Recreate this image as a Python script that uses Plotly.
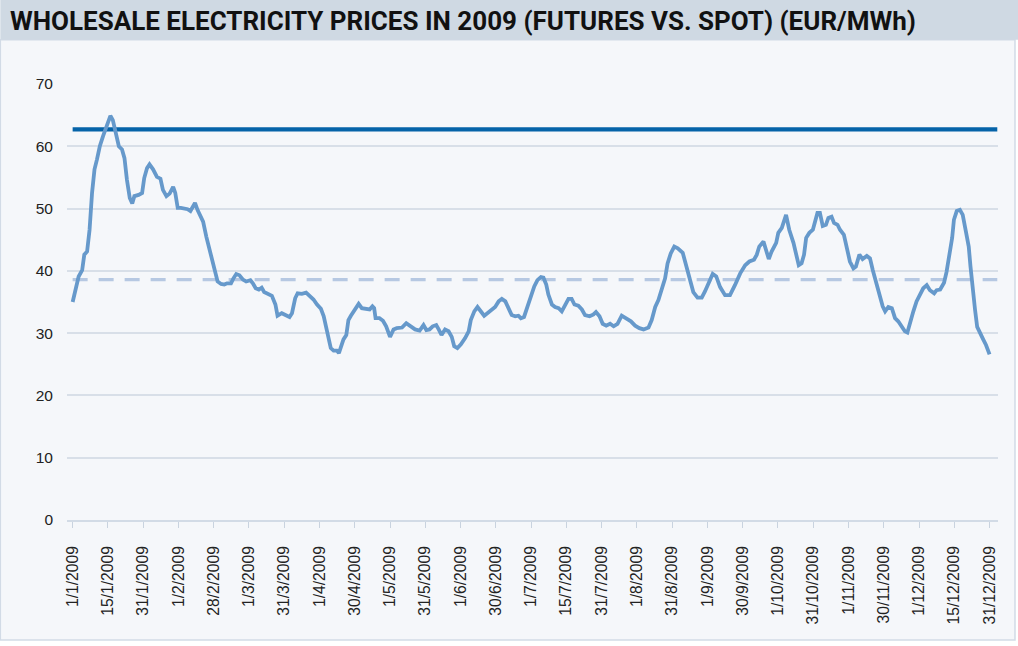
import plotly.graph_objects as go

title_text = "WHOLESALE ELECTRICITY PRICES IN 2009 (FUTURES VS. SPOT) (EUR/MWh)"

date_labels = ["1/1/2009", "15/1/2009", "31/1/2009", "1/2/2009", "28/2/2009", "1/3/2009",
               "31/3/2009", "1/4/2009", "30/4/2009", "1/5/2009", "31/5/2009", "1/6/2009",
               "30/6/2009", "1/7/2009", "15/7/2009", "31/7/2009", "1/8/2009", "31/8/2009",
               "1/9/2009", "30/9/2009", "1/10/2009", "31/10/2009", "1/11/2009", "30/11/2009",
               "1/12/2009", "15/12/2009", "31/12/2009"]

# position of each spot reading along the 27-label category axis (0 = first label)
spot_pos = [0.00, 0.12, 0.17, 0.27, 0.33, 0.41, 0.48, 0.55, 0.62, 0.69, 0.77, 0.86, 0.97, 1.07,
            1.14, 1.22, 1.31, 1.40, 1.47, 1.54, 1.62, 1.69, 1.75, 1.87, 1.97, 2.03, 2.11, 2.18,
            2.28, 2.39, 2.49, 2.56, 2.66, 2.75, 2.85, 2.91, 2.98, 3.07, 3.17, 3.26, 3.34, 3.41,
            3.47, 3.54, 3.62, 3.70, 3.79, 3.88, 3.98, 4.05, 4.11, 4.21, 4.30, 4.38, 4.49, 4.56,
            4.64, 4.73, 4.83, 4.92, 5.04, 5.11, 5.19, 5.28, 5.36, 5.43, 5.53, 5.65, 5.75, 5.81,
            5.93, 6.03, 6.15, 6.22, 6.31, 6.38, 6.50, 6.62, 6.74, 6.83, 6.93, 7.04, 7.12, 7.21,
            7.27, 7.32, 7.40, 7.49, 7.55, 7.61, 7.68, 7.76, 7.82, 7.89, 7.97, 8.04, 8.11, 8.20,
            8.30, 8.42, 8.50, 8.55, 8.59, 8.70, 8.80, 8.89, 9.00, 9.10, 9.19, 9.34, 9.46, 9.57,
            9.71, 9.84, 9.95, 10.03, 10.12, 10.21, 10.31, 10.38, 10.46, 10.56, 10.66, 10.75,
            10.82, 10.91, 11.01, 11.13, 11.23, 11.29, 11.39, 11.48, 11.58, 11.67, 11.76, 11.89,
            11.98, 12.08, 12.17, 12.27, 12.36, 12.45, 12.55, 12.64, 12.71, 12.80, 12.90, 12.99,
            13.09, 13.18, 13.28, 13.35, 13.43, 13.49, 13.59, 13.68, 13.78, 13.87, 13.97, 14.06,
            14.15, 14.23, 14.34, 14.44, 14.53, 14.66, 14.77, 14.84, 14.94, 15.03, 15.13, 15.24,
            15.34, 15.45, 15.57, 15.70, 15.83, 15.95, 16.07, 16.19, 16.33, 16.42, 16.52, 16.61,
            16.71, 16.80, 16.87, 16.96, 17.06, 17.16, 17.30, 17.40, 17.49, 17.60, 17.72, 17.84,
            17.93, 18.06, 18.15, 18.25, 18.36, 18.50, 18.64, 18.78, 18.93, 19.07, 19.19, 19.32,
            19.40, 19.47, 19.59, 19.66, 19.74, 19.82, 19.95, 20.01, 20.11, 20.23, 20.32, 20.44,
            20.51, 20.59, 20.67, 20.74, 20.80, 20.89, 20.99, 21.05, 21.12, 21.19, 21.27, 21.36,
            21.43, 21.52, 21.59, 21.69, 21.76, 21.87, 21.95, 22.04, 22.14, 22.21, 22.31, 22.40,
            22.52, 22.61, 22.69, 22.78, 22.88, 22.97, 23.04, 23.13, 23.23, 23.32, 23.41, 23.51,
            23.60, 23.67, 23.74, 23.84, 23.93, 24.03, 24.12, 24.22, 24.31, 24.43, 24.50, 24.60,
            24.71, 24.78, 24.86, 24.94, 24.99, 25.07, 25.16, 25.24, 25.33, 25.41, 25.46, 25.52,
            25.59, 25.65, 25.75, 25.82, 25.90, 25.97, 26.00]

spot_eur = [35.0, 38.0, 39.1, 40.1, 42.6, 43.1, 46.6, 52.5, 56.3, 57.9, 60.0, 61.6, 63.5, 64.9,
            64.2, 62.1, 60.0, 59.5, 58.1, 54.6, 51.7, 50.8, 52.0, 52.2, 52.5, 54.9, 56.5, 57.1,
            56.3, 55.1, 54.8, 53.0, 52.0, 52.4, 53.5, 52.5, 50.1, 50.1, 50.0, 49.9, 49.6, 50.4,
            50.9, 49.8, 49.0, 47.9, 45.5, 43.4, 41.3, 39.1, 38.3, 37.9, 37.8, 38.0, 38.0, 38.8,
            39.5, 39.3, 38.6, 38.3, 38.5, 38.0, 37.2, 37.0, 37.3, 36.6, 36.4, 36.0, 34.6, 32.8,
            33.2, 33.0, 32.6, 33.2, 35.6, 36.4, 36.3, 36.5, 35.9, 35.4, 34.6, 33.9, 32.7, 30.6,
            29.0, 27.6, 27.2, 27.2, 26.8, 27.9, 29.0, 29.7, 32.1, 32.8, 33.5, 34.3, 34.7, 34.0,
            33.9, 33.8, 34.3, 34.0, 32.4, 32.4, 32.0, 31.1, 29.4, 30.6, 30.8, 30.9, 31.6, 31.1,
            30.6, 30.4, 31.3, 30.5, 30.6, 31.1, 31.3, 30.6, 29.7, 30.6, 30.3, 29.4,
            27.9, 27.6, 28.2, 29.2, 30.3, 32.1, 33.5, 34.2, 33.4, 32.8, 33.2, 33.8,
            34.2, 35.1, 35.5, 35.1, 34.0, 32.9, 32.7, 32.8, 32.4, 32.6, 34.3, 35.9,
            37.5, 38.5, 39.0, 38.9, 37.8, 36.2, 34.6, 34.2, 34.0, 33.5, 34.7, 35.5,
            35.5, 34.6, 34.4, 33.8, 32.9, 32.7, 33.0, 33.4, 32.7, 31.5, 31.2, 31.5,
            31.1, 31.5, 32.8, 32.3, 31.9, 31.2, 30.8, 30.6, 30.9, 32.1, 34.2, 35.3,
            36.9, 38.8, 41.2, 42.8, 43.9, 43.6, 42.9, 40.7, 38.6, 36.6, 35.7, 35.7,
            36.7, 38.3, 39.5, 39.1, 37.4, 36.1, 36.1, 37.7, 39.6, 40.9, 41.5, 41.8,
            42.6, 43.9, 44.7, 43.4, 41.9, 43.1, 44.5, 46.1, 46.9, 49.0, 46.6, 44.5,
            42.6, 40.9, 41.2, 42.6, 45.3, 46.1, 46.6, 48.0, 49.3, 49.3, 47.2, 47.4,
            48.5, 48.7, 47.7, 47.4, 46.6, 45.8, 43.9, 41.5, 40.4, 40.7, 42.6, 41.9,
            42.4, 42.0, 40.1, 38.2, 36.1, 34.3, 33.5, 34.2, 34.0, 32.4, 31.9, 31.1,
            30.3, 30.1, 31.7, 33.5, 35.1, 36.1, 37.2, 37.7, 36.9, 36.4, 36.9, 37.0,
            38.1, 39.8, 42.3, 45.3, 48.2, 49.6, 49.8, 49.0, 46.3, 43.9, 40.7, 36.9,
            33.7, 31.0, 30.0, 29.0, 28.1, 26.9, 26.6]

futures_eur = 62.7
spot_avg_eur = 38.6

x_range = [-0.16, 26.24]
y_range = [0, 70]

fig = go.Figure()

fig.add_trace(go.Scatter(
    x=[0, x_range[1] - 0.02], y=[spot_avg_eur, spot_avg_eur], mode="lines",
    line=dict(color="#b6c8e2", width=3.2, dash="15px,11px"), name="Spot average",
    hoverinfo="skip"))
fig.add_trace(go.Scatter(
    x=[0, x_range[1] - 0.02], y=[futures_eur, futures_eur], mode="lines",
    line=dict(color="#0563a8", width=4.2), name="Futures"))
fig.add_trace(go.Scatter(
    x=spot_pos, y=spot_eur, mode="lines",
    line=dict(color="#6699cb", width=3.8), name="Spot"))

# plot area in pixels: left 66.7, right 998, top 84.3, bottom 520
L, R, T, B = 66.7, 998.0, 84.3, 520.0
W, H = 1018, 646
pw, ph = R - L, B - T


def px_x(p):
    return (p - L) / pw


def px_y(p):
    return (B - p) / ph


fig.add_shape(type="rect", xref="paper", yref="paper",
              x0=px_x(0), x1=px_x(1015), y0=px_y(640), y1=px_y(40),
              fillcolor="#f5f7fa", line=dict(color="#d2dbe6", width=1.5), layer="below")
fig.add_shape(type="rect", xref="paper", yref="paper",
              x0=px_x(0), x1=px_x(1018), y0=px_y(40), y1=px_y(0),
              fillcolor="#cfd9e3", line=dict(width=0), layer="below")

fig.add_annotation(text="<b>" + title_text + "</b>", xref="paper", yref="paper",
                   x=px_x(8), y=px_y(21), xanchor="left", yanchor="middle", showarrow=False,
                   font=dict(family="Liberation Sans Narrow, Arial Narrow, Roboto, sans-serif",
                             size=26, color="#111111"))

fig.update_layout(
    width=W, height=H,
    margin=dict(l=L, r=W - R, t=T, b=H - B),
    paper_bgcolor="#ffffff",
    plot_bgcolor="rgba(0,0,0,0)",
    showlegend=False,
    font=dict(family="Liberation Sans, Arial, sans-serif", size=15, color="#222222"),
)

fig.update_xaxes(
    range=x_range, tickmode="array", tickvals=list(range(len(date_labels))), ticktext=date_labels,
    tickangle=-90, ticks="outside", ticklen=6, tickwidth=1.2, tickcolor="#c9d3df",
    showgrid=False, zeroline=False, showline=True, linecolor="#d2dbe6", linewidth=1.5,
    tickfont=dict(size=15.7, color="#222222"), ticklabelstandoff=12,
)
fig.update_yaxes(
    range=y_range, dtick=10, tick0=0, showgrid=True, gridcolor="#d8dfe8", gridwidth=1.5,
    zeroline=False, showline=False, ticks="", tickfont=dict(size=15.5, color="#222222"),
    ticklabelstandoff=13,
)

fig.write_html("out.html", config={"displayModeBar": False},
               post_script="document.body.style.margin='0';document.body.style.overflow='hidden';")
